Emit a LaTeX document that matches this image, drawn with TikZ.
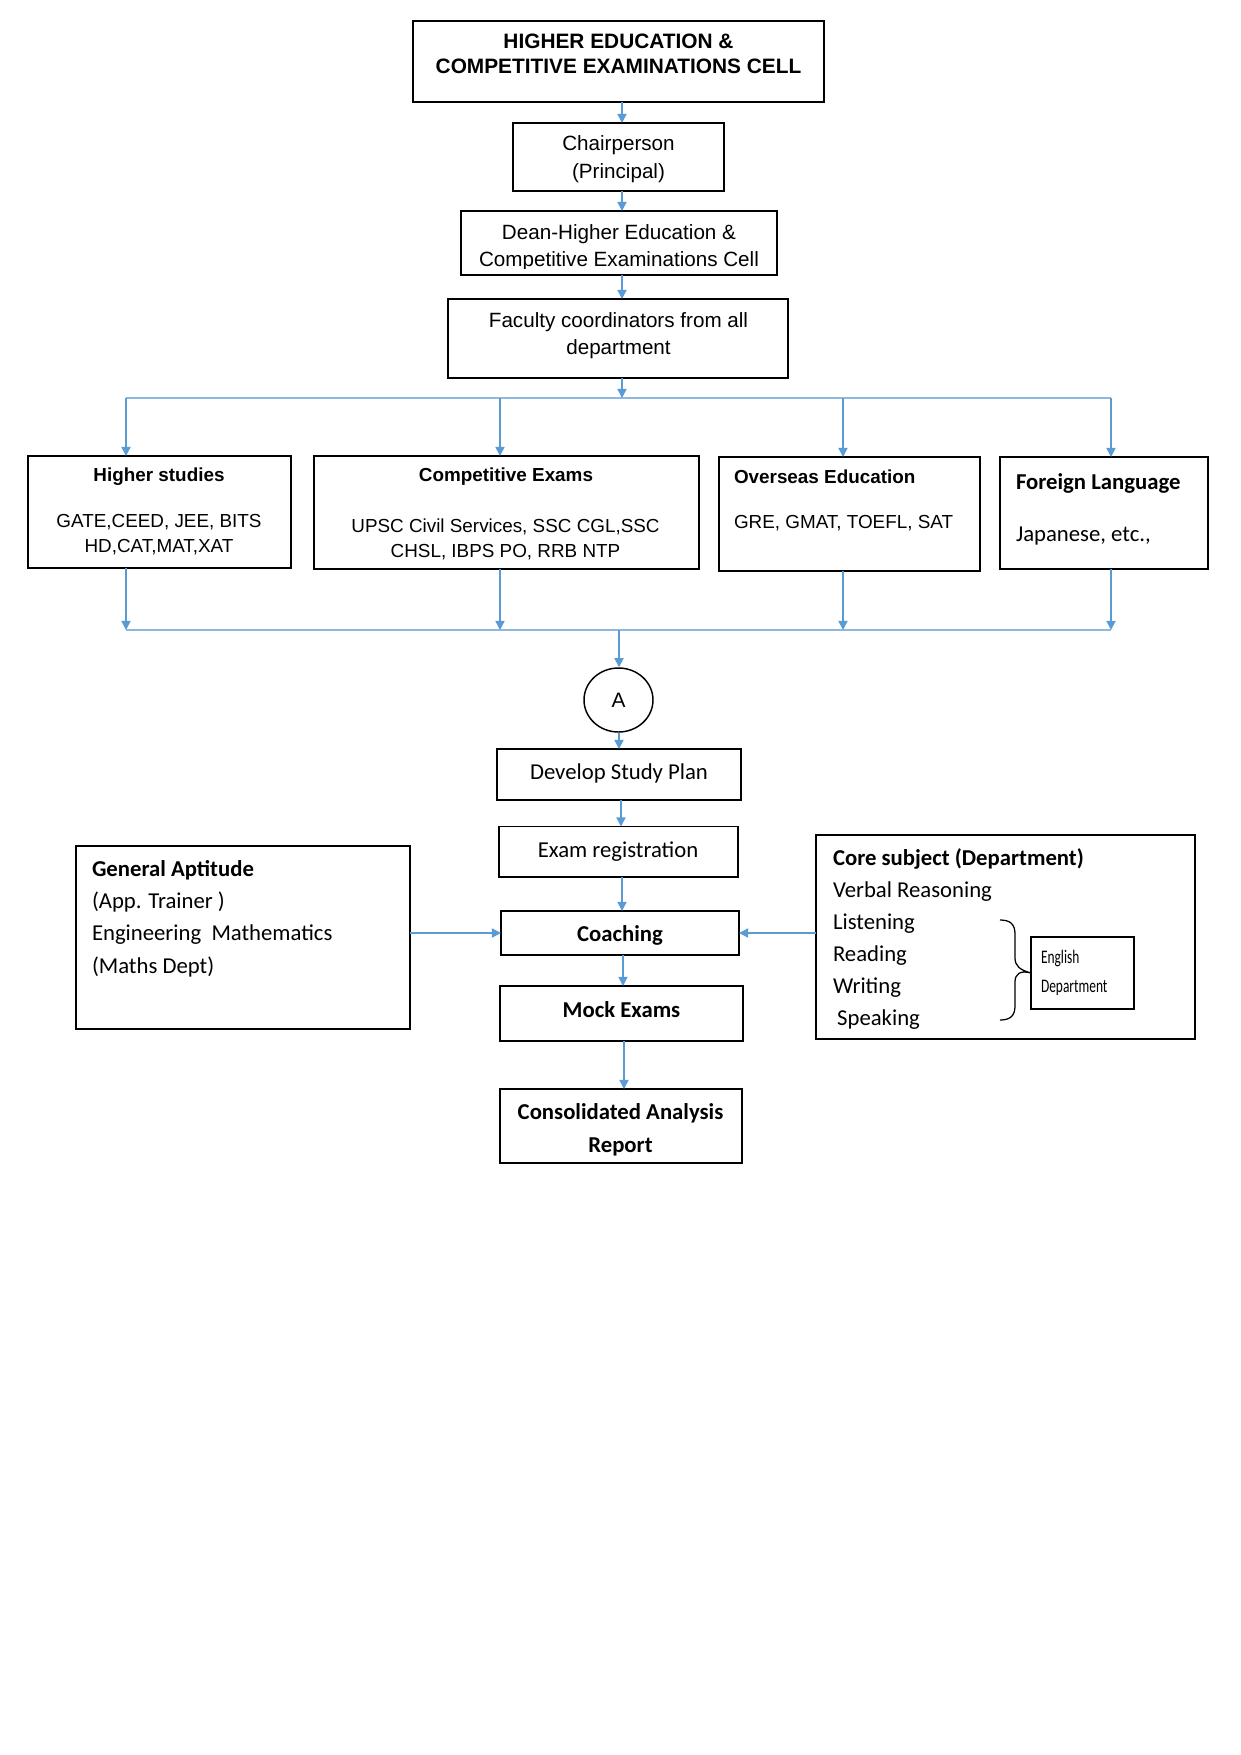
\documentclass[tikz,border=0pt]{standalone}
\usepackage{fontspec}
\setmainfont{Liberation Sans}
\newfontfamily\calib{Carlito}
\newfontfamily\calibnarrow[FakeStretch=0.7]{Carlito}
\usetikzlibrary{arrows.meta,shapes.geometric,calc}
\definecolor{arrblue}{HTML}{5B9BD5}
\definecolor{busblue}{HTML}{8DB8E2}
\newcommand{\pxu}{0.4797pt}
% \boxat{name}{x1}{y1}{x2}{y2}
\newcommand{\boxat}[5]{\node[box,minimum width={(#4-#2)*\pxu},minimum height={(#5-#3)*\pxu}] (#1) at ({(#2+#4)/2},{(#3+#5)/2}) {};}
\begin{document}
\begin{tikzpicture}[x=0.4797pt,y=-0.4797pt,
  box/.style={draw=black,line width=0.7pt,rectangle,inner sep=0pt,outer sep=0pt},
  arr/.style={draw=arrblue,line width=0.75pt,-{Triangle[length=4.4pt,width=4.4pt]}},
  bus/.style={draw=busblue,line width=0.55pt},
  txt/.style={inner sep=0pt,outer sep=0pt,align=center},
  ltxt/.style={inner sep=0pt,outer sep=0pt,align=left,anchor=west},
  arialB/.style={font=\bfseries\fontsize{10}{12}\selectfont},
  arialS/.style={font=\fontsize{9.05}{12}\selectfont},
  arialSB/.style={font=\bfseries\fontsize{9.05}{12}\selectfont},
  cal/.style={font=\calib\fontsize{10.9}{15.5}\selectfont},
  calB/.style={font=\calib\bfseries\fontsize{10.9}{15.8}\selectfont}
]
\useasboundingbox (0,0) rectangle (1241,1755);

% ---------- top chain ----------
\boxat{top}{413}{21}{824}{102}
\node[txt,arialB] (toptxt) at (618.5,53.5) {HIGHER EDUCATION \&\\COMPETITIVE EXAMINATIONS CELL};

\boxat{chair}{513}{123}{724}{191}
\node[txt,font=\fontsize{9.9}{13.4}\selectfont] (chairtxt) at (618.5,159) {Chairperson\\(Principal)};

\boxat{dean}{461}{211}{777}{275}
\begin{scope}
\clip (461,211) rectangle (777,268);
\node[txt,font=\fontsize{9.9}{13}\selectfont] (deantxt) at (619,247.5) {Dean-Higher Education \&\\Competitive Examinations Cell};
\end{scope}

\boxat{fac}{448}{299}{788}{378}
\node[txt,font=\fontsize{9.9}{13}\selectfont] (factxt) at (618.5,335.5) {Faculty coordinators from all\\department};

\coordinate (s1) at ($(top.south)+(3.5,0)$);
\draw[arr] (s1) -- (s1 |- chair.north);
\coordinate (s2) at ($(chair.south)+(3.5,0)$);
\draw[arr] (s2) -- (s2 |- dean.north);
\coordinate (s3) at ($(dean.south)+(3,0)$);
\draw[arr] (s3) -- (s3 |- fac.north);

% ---------- distribution bus ----------
\coordinate (bt1) at (126,398);
\coordinate (bt2) at (500,398);
\coordinate (bt3) at (843,398);
\coordinate (bt4) at (1111,398);
\draw[bus] (bt1) -- (bt4);
\coordinate (s4) at ($(fac.south)+(4,0)$);
\draw[arr] (s4) -- (s4 |- bt1);

% ---------- four categories ----------
\boxat{higher}{28}{456}{291}{568}
\node[txt,arialSB] (highert) at (159,477) {Higher studies};
\node[txt,arialS] (higherb) at (159,535) {GATE,CEED, JEE, BITS\\HD,CAT,MAT,XAT};

\boxat{comp}{314}{456}{699}{569}
\node[txt,arialSB] (compt) at (506,477) {Competitive Exams};
\node[txt,arialS] (compb) at (505.5,539.5) {UPSC Civil Services, SSC CGL,SSC\\CHSL, IBPS PO, RRB NTP};

\boxat{over}{719}{457}{980}{571}
\node[ltxt,arialSB] (overt) at (734,477) {Overseas Education};
\node[ltxt,arialS] (overb) at (734,523) {GRE, GMAT, TOEFL, SAT};

\boxat{foreign}{1000}{457}{1208}{569}
\node[ltxt,calB] (foreignt) at (1016,483) {Foreign Language};
\node[ltxt,cal] (foreignb) at (1016,536) {Japanese, etc.,};

\draw[arr] (bt1) -- (bt1 |- higher.north);
\draw[arr] (bt2) -- (bt2 |- comp.north);
\draw[arr] (bt3) -- (bt3 |- over.north);
\draw[arr] (bt4) -- (bt4 |- foreign.north);

% ---------- collecting bus ----------
\coordinate (bb1) at (126,630);
\coordinate (bb2) at (500,630);
\coordinate (bb3) at (843,630);
\coordinate (bb4) at (1111,630);
\coordinate (bbA) at (619,630);
\draw[bus] (bb1) -- (bb4);
\draw[arr] (bb1 |- higher.south) -- (bb1);
\draw[arr] (bb2 |- comp.south) -- (bb2);
\draw[arr] (bb3 |- over.south) -- (bb3);
\draw[arr] (bb4 |- foreign.south) -- (bb4);

% ---------- connector A ----------
\node[draw,ellipse,line width=0.7pt,minimum width={69*\pxu},minimum height={64*\pxu},inner sep=0pt,font=\fontsize{10}{12}\selectfont] (A) at (618.5,700) {A};
\draw[arr] (bbA) -- (bbA |- A.north);

% ---------- lower chain ----------
\boxat{dev}{497}{749}{741}{800}
\node[txt,cal] (devt) at (619,773) {Develop Study Plan};

\boxat{exam}{499}{826.5}{738}{877}
\node[txt,cal] (examt) at (618,852) {Exam registration};

\boxat{coach}{501}{911}{739}{955}
\node[txt,calB] (coacht) at (620,935) {Coaching};

\boxat{mock}{500}{986}{743}{1041}
\node[txt,calB] (mockt) at (621.5,1009.5) {Mock Exams};

\boxat{cons}{500}{1089}{742}{1163}
\node[txt,calB] (const) at (620.5,1129.5) {Consolidated Analysis\\Report};

\coordinate (s5) at ($(A.south)+(0.5,0)$);
\draw[arr] (s5) -- (s5 |- dev.north);
\coordinate (s6) at ($(dev.south)+(2,0)$);
\draw[arr] (s6) -- (s6 |- exam.north);
\coordinate (s7) at ($(exam.south)+(3.5,0)$);
\draw[arr] (s7) -- (s7 |- coach.north);
\coordinate (s8) at ($(coach.south)+(3,0)$);
\draw[arr] (s8) -- (s8 |- mock.north);
\coordinate (s9) at ($(mock.south)+(2.5,0)$);
\draw[arr] (s9) -- (s9 |- cons.north);

% ---------- side boxes ----------
\boxat{ga}{76}{846}{410}{1029}
\node[ltxt,cal] (gat) at (92,918.5) {\textbf{General Aptitude}\\(App. Trainer )\\Engineering\ \ Mathematics\\(Maths Dept)};
\draw[arr] (ga.east |- coach.west) -- (coach.west);

\boxat{core}{816}{835}{1195}{1039}
\node[ltxt,font=\calib\fontsize{10.9}{15.35}\selectfont] (coret) at (833,939.5) {\textbf{Core subject (Department)}\\Verbal Reasoning\\Listening\\Reading\\Writing\\\hspace*{2pt}Speaking};
\draw[arr] (core.west |- coach.east) -- (coach.east);

\boxat{eng}{1031}{937}{1134}{1009}
\node[ltxt,font=\calibnarrow\fontsize{9.2}{13.9}\selectfont] (engt) at (1041,973) {English\\Department};

\draw[line width=0.6pt] (1000,920) .. controls (1010,920) and (1015,924) .. (1015,934)
  -- (1015,958) .. controls (1015,966) and (1020,970) .. (eng.west)
  .. controls (1020,970) and (1015,974) .. (1015,982)
  -- (1015,1006) .. controls (1015,1016) and (1010,1020) .. (1000,1020);
\end{tikzpicture}
\end{document}
